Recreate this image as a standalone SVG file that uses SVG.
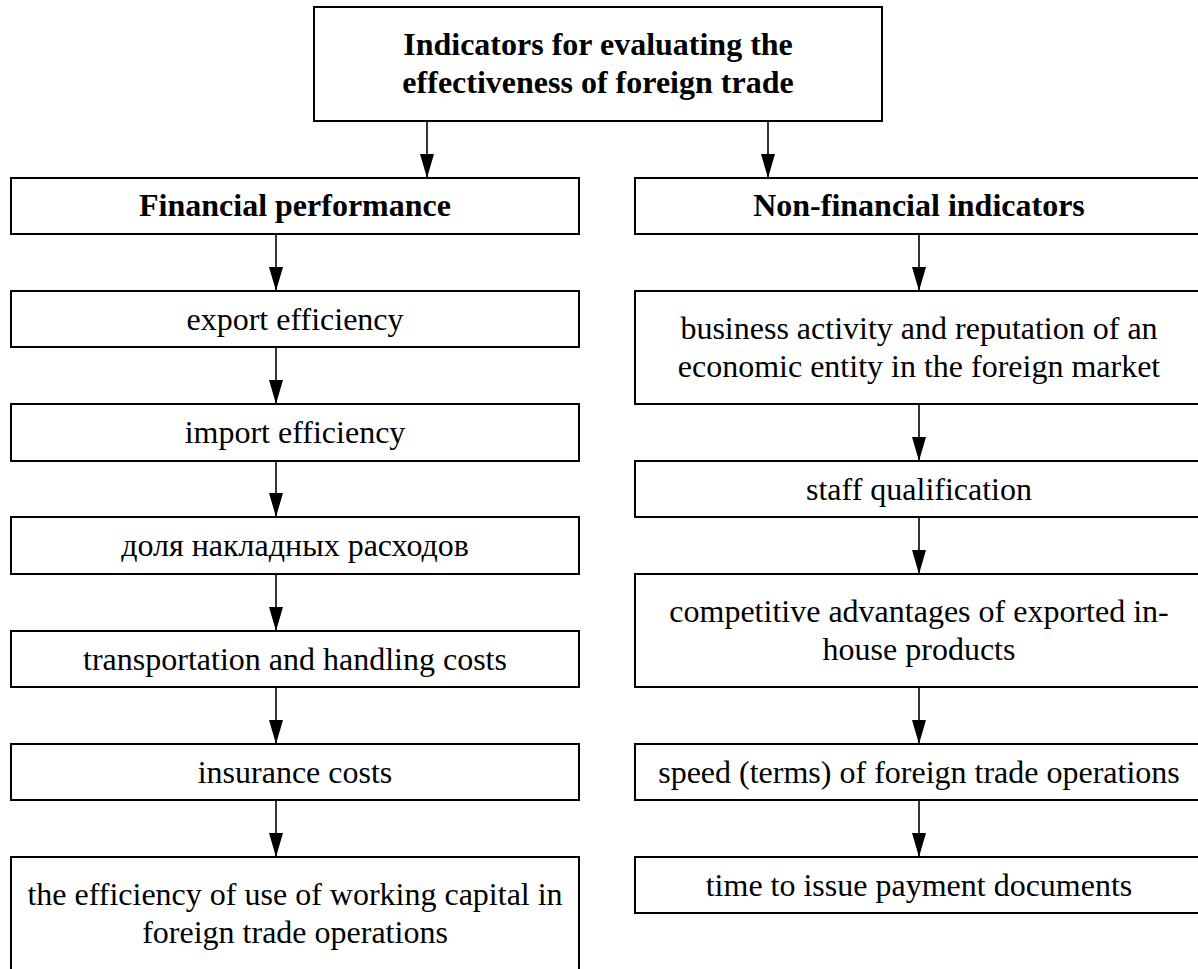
<svg xmlns="http://www.w3.org/2000/svg" width="1198" height="969" viewBox="0 0 1198 969">
<style>
.box{fill:#fff;stroke:#000;stroke-width:2}
.t{font-family:'Liberation Serif','Times New Roman',serif;font-size:32px;fill:#000;text-anchor:middle}
.b{font-weight:bold}
.c{stroke:#000;stroke-width:1.6;fill:none;marker-end:url(#ah)}
</style>
<defs>
<marker id="ah" viewBox="0 0 24 14" refX="24" refY="7" markerWidth="24" markerHeight="14" markerUnits="userSpaceOnUse" orient="auto">
<path d="M0,0 L24,7 L0,14 z" fill="#000"/>
</marker>
</defs>
<rect width="1198" height="969" fill="#fff"/>
<g id="connectors">
<line class="c" x1="427" y1="121" x2="427" y2="178"/>
<line class="c" x1="768" y1="121" x2="768" y2="178"/>
<line class="c" x1="276" y1="234" x2="276" y2="291"/>
<line class="c" x1="276" y1="347" x2="276" y2="404"/>
<line class="c" x1="276" y1="461" x2="276" y2="517"/>
<line class="c" x1="276" y1="574" x2="276" y2="631"/>
<line class="c" x1="276" y1="687" x2="276" y2="744"/>
<line class="c" x1="276" y1="800" x2="276" y2="857"/>
<line class="c" x1="919" y1="234" x2="919" y2="291"/>
<line class="c" x1="919" y1="404" x2="919" y2="461"/>
<line class="c" x1="919" y1="517" x2="919" y2="574"/>
<line class="c" x1="919" y1="687" x2="919" y2="744"/>
<line class="c" x1="919" y1="800" x2="919" y2="857"/>
</g>
<g id="root">
<rect class="box" x="314" y="7" width="568" height="114"/>
<text class="t b" x="598" y="55">Indicators for evaluating the</text>
<text class="t b" x="598" y="93">effectiveness of foreign trade</text>
</g>
<g id="financial">
<rect class="box" x="11" y="178" width="568" height="56"/>
<text class="t b" x="295" y="216">Financial performance</text>
</g>
<g id="nonfinancial">
<rect class="box" x="635" y="178" width="568" height="56"/>
<text class="t b" x="919" y="216">Non-financial indicators</text>
</g>
<g id="export">
<rect class="box" x="11" y="291" width="568" height="56"/>
<text class="t" x="295" y="330">export efficiency</text>
</g>
<g id="import">
<rect class="box" x="11" y="404" width="568" height="57"/>
<text class="t" x="295" y="443">import efficiency</text>
</g>
<g id="overhead">
<rect class="box" x="11" y="517" width="568" height="57"/>
<text class="t" x="295" y="556">доля накладных расходов</text>
</g>
<g id="transport">
<rect class="box" x="11" y="631" width="568" height="56"/>
<text class="t" x="295" y="670">transportation and handling costs</text>
</g>
<g id="insurance">
<rect class="box" x="11" y="744" width="568" height="56"/>
<text class="t" x="295" y="783">insurance costs</text>
</g>
<g id="working-capital">
<rect class="box" x="11" y="857" width="568" height="120"/>
<text class="t" x="295" y="905">the efficiency of use of working capital in</text>
<text class="t" x="295" y="943">foreign trade operations</text>
</g>
<g id="business">
<rect class="box" x="635" y="291" width="568" height="113"/>
<text class="t" x="919" y="339">business activity and reputation of an</text>
<text class="t" x="919" y="377">economic entity in the foreign market</text>
</g>
<g id="staff">
<rect class="box" x="635" y="461" width="568" height="56"/>
<text class="t" x="919" y="500">staff qualification</text>
</g>
<g id="competitive">
<rect class="box" x="635" y="574" width="568" height="113"/>
<text class="t" x="919" y="622">competitive advantages of exported in-</text>
<text class="t" x="919" y="660">house products</text>
</g>
<g id="speed">
<rect class="box" x="635" y="744" width="568" height="56"/>
<text class="t" x="919" y="783">speed (terms) of foreign trade operations</text>
</g>
<g id="payment">
<rect class="box" x="635" y="857" width="568" height="56"/>
<text class="t" x="919" y="896">time to issue payment documents</text>
</g>
</svg>
